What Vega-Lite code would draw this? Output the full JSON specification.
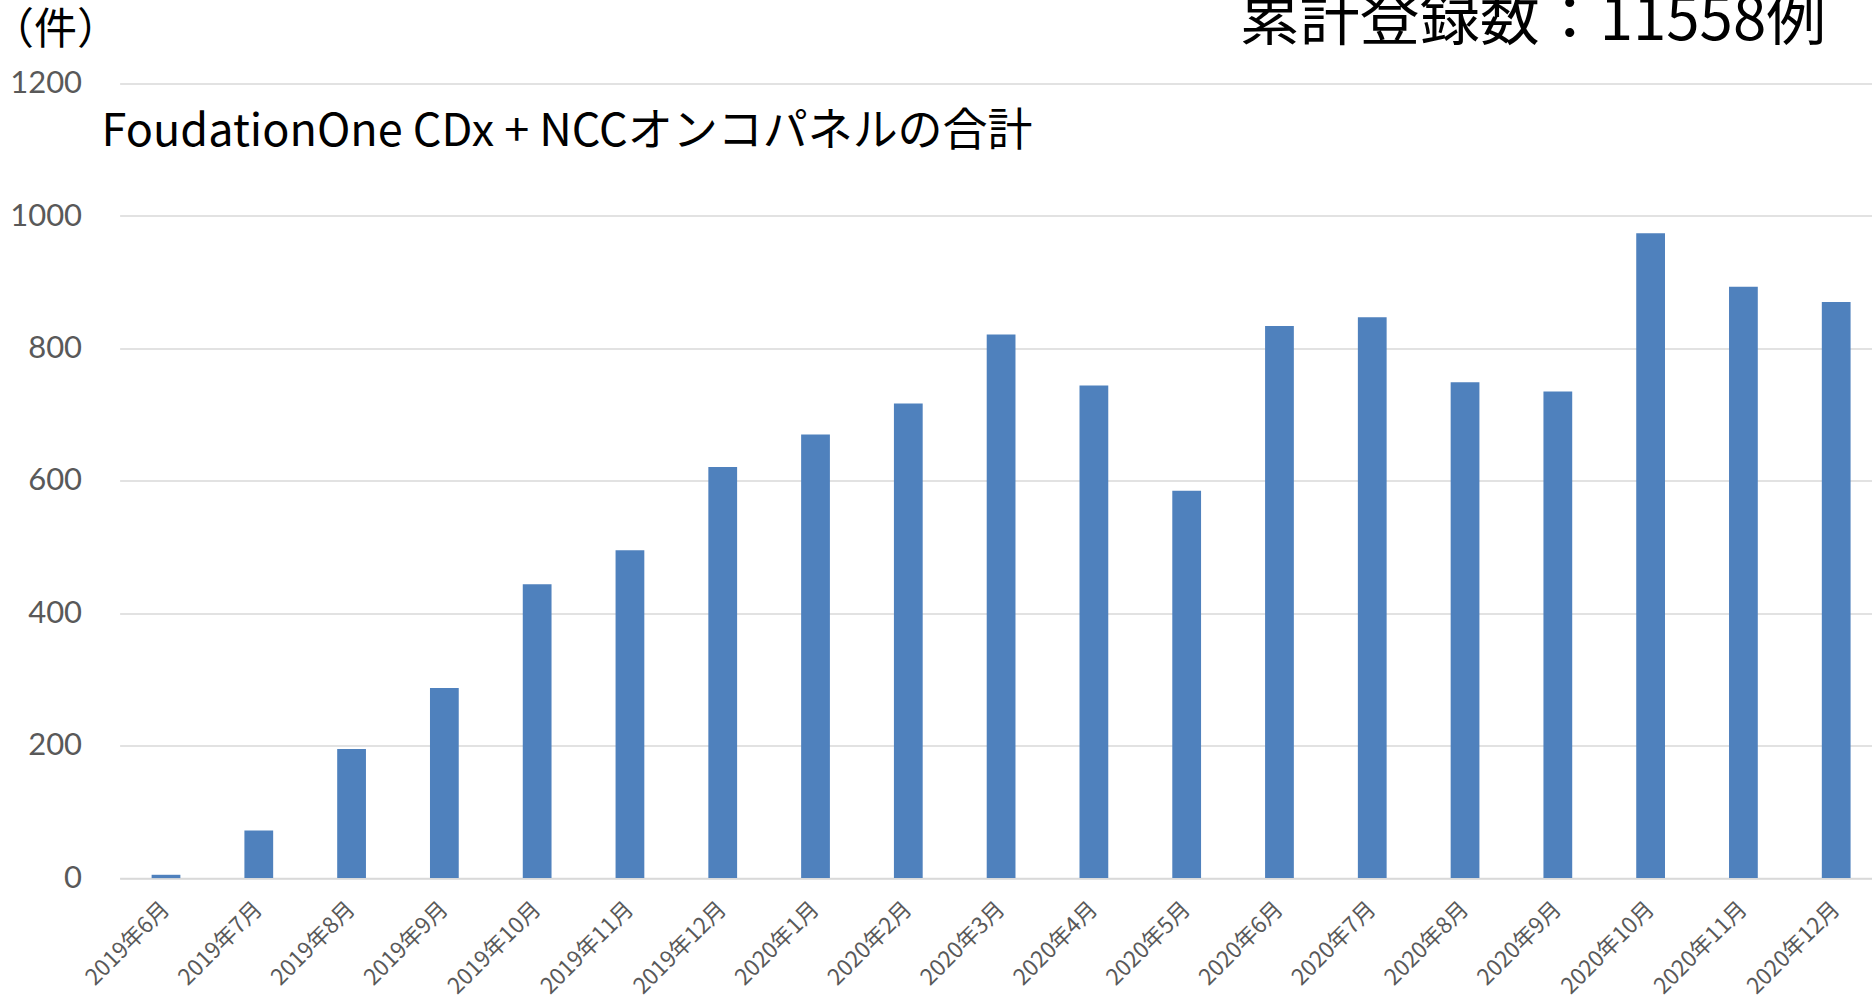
{
  "$schema": "https://vega.github.io/schema/vega-lite/v6.json",
  "autosize": {"type": "none"},
  "width": 1763,
  "height": 794.5,
  "padding": {"left": 119.6, "top": 83.6, "right": 0, "bottom": 119},
  "background": "white",
  "config": {
    "view": {"stroke": null},
    "axis": {"gridColor": "#d9d9d9", "gridWidth": 1.5}
  },
  "layer": [
    {
      "data": {
        "values": [
          {"month": "2019年6月", "count": 5},
          {"month": "2019年7月", "count": 72},
          {"month": "2019年8月", "count": 195},
          {"month": "2019年9月", "count": 287},
          {"month": "2019年10月", "count": 444},
          {"month": "2019年11月", "count": 495},
          {"month": "2019年12月", "count": 621},
          {"month": "2020年1月", "count": 670},
          {"month": "2020年2月", "count": 717},
          {"month": "2020年3月", "count": 821},
          {"month": "2020年4月", "count": 744},
          {"month": "2020年5月", "count": 585},
          {"month": "2020年6月", "count": 834},
          {"month": "2020年7月", "count": 847},
          {"month": "2020年8月", "count": 749},
          {"month": "2020年9月", "count": 735},
          {"month": "2020年10月", "count": 974},
          {"month": "2020年11月", "count": 893},
          {"month": "2020年12月", "count": 870}
        ]
      },
      "mark": {"type": "bar", "color": "#4F81BD"},
      "encoding": {
        "x": {
          "field": "month",
          "type": "ordinal",
          "sort": null,
          "scale": {"paddingInner": 0.69, "paddingOuter": 0.345},
          "axis": {
            "title": null,
            "labelAngle": -45,
            "labelAlign": "right",
            "labelBaseline": "middle",
            "labelFont": "Noto Sans CJK JP",
            "labelFontSize": 22.5,
            "labelColor": "#595959",
            "labelPadding": 27,
            "ticks": false,
            "grid": false,
            "domainColor": "#d9d9d9",
            "domainWidth": 1.5,
            "labelOverlap": false
          }
        },
        "y": {
          "field": "count",
          "type": "quantitative",
          "scale": {"domain": [0, 1200], "nice": false},
          "axis": {
            "values": [0, 200, 400, 600, 800, 1000, 1200],
            "format": "d",
            "title": "（件）",
            "titleAngle": 0,
            "titleAlign": "left",
            "titleBaseline": "middle",
            "titleX": -129,
            "titleY": -53,
            "titleFont": "Noto Sans CJK JP",
            "titleFontSize": 43,
            "titleFontWeight": "normal",
            "titleColor": "#000000",
            "labelFont": "Lato",
            "labelFontSize": 31,
            "labelColor": "#595959",
            "labelPadding": 38,
            "ticks": false,
            "domain": false,
            "grid": true
          }
        }
      }
    },
    {
      "data": {"values": [{"label": "FoudationOne CDx + NCCオンコパネルの合計"}]},
      "mark": {
        "type": "text",
        "align": "left",
        "baseline": "alphabetic",
        "dx": -50,
        "font": "Noto Sans CJK JP",
        "fontSize": 45,
        "color": "#000000"
      },
      "encoding": {
        "x": {"datum": "2019年6月", "bandPosition": 0},
        "y": {"datum": 1106},
        "text": {"field": "label"}
      }
    },
    {
      "data": {"values": [{"label": "累計登録数：11558例"}]},
      "mark": {
        "type": "text",
        "align": "right",
        "baseline": "alphabetic",
        "dx": -10,
        "font": "Noto Sans CJK JP",
        "fontSize": 60,
        "color": "#000000"
      },
      "encoding": {
        "x": {"datum": "2020年12月"},
        "y": {"datum": 1266},
        "text": {"field": "label"}
      }
    }
  ]
}
